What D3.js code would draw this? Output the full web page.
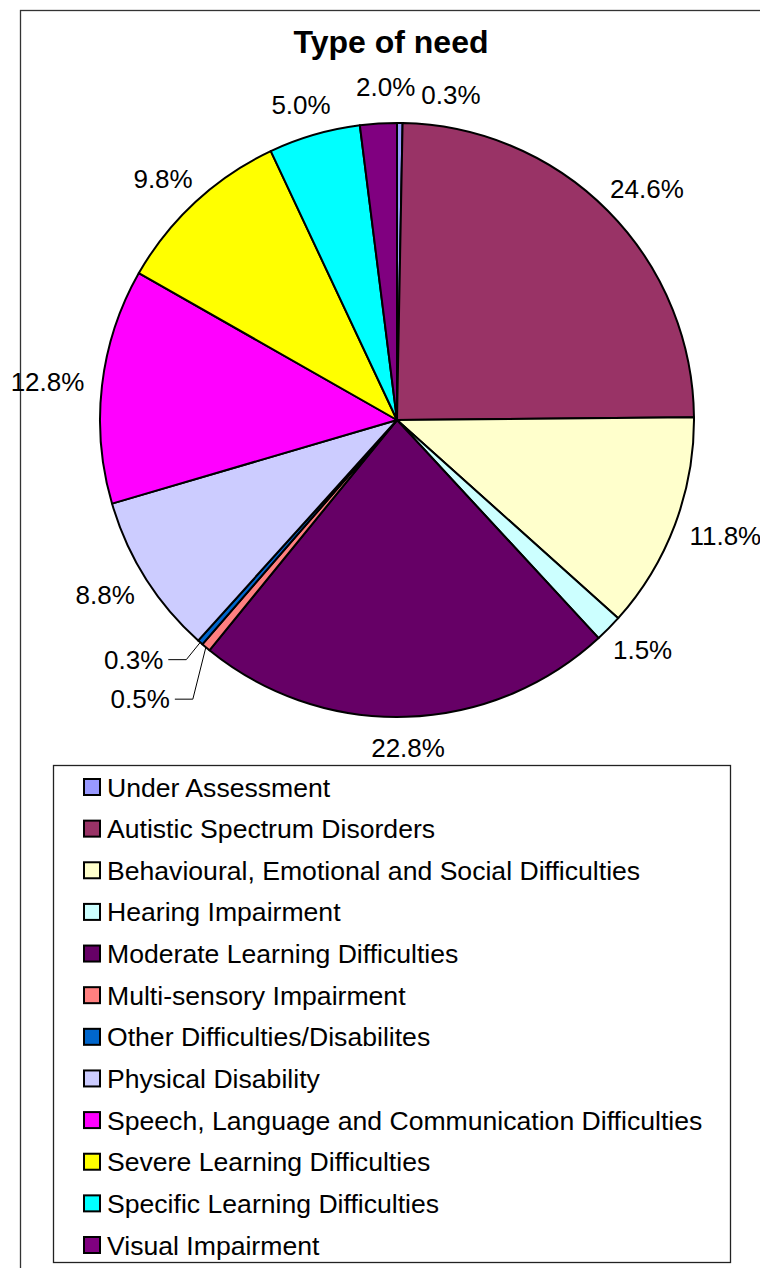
<!DOCTYPE html>
<html><head><meta charset="utf-8">
<script src="https://cdn.jsdelivr.net/npm/d3@7"></script>
<style>body{margin:0;background:#fff}</style>
</head><body><svg id="c" width="760" height="1268"></svg>
<script>
// ---- data ----
const title = "Type of need";
const categories = ["Under Assessment","Autistic Spectrum Disorders","Behavioural, Emotional and Social Difficulties","Hearing Impairment","Moderate Learning Difficulties","Multi-sensory Impairment","Other Difficulties/Disabilites","Physical Disability","Speech, Language and Communication Difficulties","Severe Learning Difficulties","Specific Learning Difficulties","Visual Impairment"];
const values = [0.3,24.6,11.8,1.5,22.8,0.5,0.3,8.8,12.8,9.8,5.0,2.0];
const colors = ["#9999FF","#993366","#FFFFCC","#CCFFFF","#660066","#FF8080","#0066CC","#CCCCFF","#FF00FF","#FFFF00","#00FFFF","#800080"];

// ---- layout ----
const FONT = "'Liberation Sans', Arial, Helvetica, sans-serif";
const cx = 397, cy = 420, r = 297;
const labelGap = 18, labelFont = 26;
const svg = d3.select("#c");

svg.append("rect").attr("x",20.5).attr("y",10.5).attr("width",900).attr("height",1400)
  .attr("fill","#fff").attr("stroke","#333").attr("stroke-width",1.3);

svg.append("text").attr("x",391).attr("y",53).attr("text-anchor","middle")
  .attr("font-family",FONT).attr("font-weight","bold").attr("font-size",32).text(title);

const data = categories.map((c,i)=>({name:c, value:values[i], color:colors[i]}));
const pie = d3.pie().sort(null).value(d=>d.value);
const arcs = pie(data);
const arcGen = d3.arc().innerRadius(0).outerRadius(r);

const g = svg.append("g").attr("transform",`translate(${cx},${cy})`);
g.selectAll("path").data(arcs).join("path")
  .attr("d",arcGen).attr("fill",d=>d.data.color)
  .attr("stroke","#000").attr("stroke-width",2).attr("stroke-linejoin","round");

// labels
const lg = g.append("g").attr("font-family",FONT).attr("font-size",labelFont);
const labels = arcs.map((a,i)=>{
  const mid = (a.startAngle+a.endAngle)/2;
  const s = Math.sin(mid), c = -Math.cos(mid);
  const t = lg.append("text").attr("text-anchor","middle").attr("dy","0.35em")
    .text(a.data.value.toFixed(1)+"%");
  const w = t.node().getComputedTextLength(), h = labelFont;
  return {i, a, mid, s, c, t, w, h, value:a.data.value,
    x:(r+labelGap)*s + w/2*s, y:(r+labelGap)*c + h/2*c, leader:false};
});
function overlap(p,q){
  const ox = (p.w+q.w)/2 - Math.abs(p.x-q.x);
  const oy = (p.h+q.h)/2 - Math.abs(p.y-q.y);
  return (ox>0 && oy>0) ? ox : 0;
}
const n = labels.length;
for (let k=0;k<n;k++){
  const p = labels[k], q = labels[(k+1)%n];
  const ox = overlap(p,q);
  if (!ox) continue;
  const nearTop = Math.abs(p.c) > 0.9 && Math.abs(q.c) > 0.9;
  if (nearTop){
    // spread the two labels sideways; the smaller one moves further
    const m = p.value <= q.value ? p : q, o = m===p ? q : p;
    const d = (m.x >= o.x ? 1 : -1);
    o.x += d * 0.3 * ox;
    o.y -= 6;
    m.x = o.x + d * ((m.w + o.w)/2 + 6);
    m.y += 3;
  } else {
    // stack with leader lines, pushed outward horizontally
    const pair = [p,q].sort((u,v)=>u.y-v.y);
    const dir = Math.sign(p.s) || 1;
    const step = labelFont*1.75;
    pair.forEach((m,j)=>{ m.leader = true; m.y = pair[0].y - 6 + j*step; m.x += dir*35; });
  }
}
labels.forEach(l=>l.t.attr("x",l.x).attr("y",l.y));
labels.filter(l=>l.leader).forEach(l=>{
  const dir = Math.sign(l.s) || 1;
  const x0 = l.x + dir*(-l.w/2 - 5);
  const ex = r*l.s, ey = r*l.c;
  const x1 = x0 - dir*18;
  g.append("path").attr("d",`M${x0},${l.y}H${x1}L${ex},${ey}`)
    .attr("fill","none").attr("stroke","#000").attr("stroke-width",1);
});

// legend
const legX = 53.5, legY = 765.5, legW = 677, legH = 497;
svg.append("rect").attr("x",legX).attr("y",legY).attr("width",legW).attr("height",legH)
  .attr("fill","#fff").attr("stroke","#222").attr("stroke-width",1.3);
const rowY = d3.scalePoint().domain(categories).range([787,1245]);
const leg = svg.append("g").attr("font-family",FONT).attr("font-size",26.6);
const items = leg.selectAll("g").data(data).join("g")
  .attr("transform",d=>`translate(0,${rowY(d.name)})`);
items.append("rect").attr("x",84).attr("y",-8).attr("width",16).attr("height",16)
  .attr("fill",d=>d.color).attr("stroke","#000").attr("stroke-width",2);
items.append("text").attr("x",107).attr("dy","0.36em").text(d=>d.name);
</script></body></html>
